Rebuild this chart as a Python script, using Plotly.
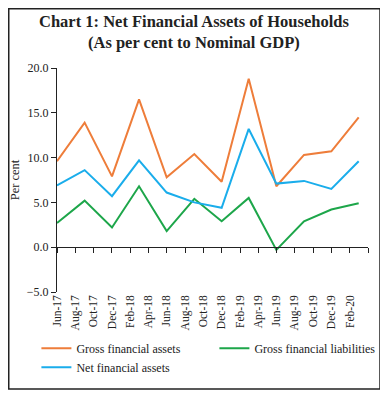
import plotly.graph_objects as go
import pandas as pd

quarters = ["Jun-17", "Sep-17", "Dec-17", "Mar-18", "Jun-18", "Sep-18",
            "Dec-18", "Mar-19", "Jun-19", "Sep-19", "Dec-19", "Mar-20"]
gross_assets = [9.6, 13.9, 7.9, 16.5, 7.8, 10.4, 7.3, 18.8, 6.8, 10.3, 10.7, 14.5]
gross_liabilities = [2.7, 5.2, 2.2, 6.8, 1.8, 5.4, 2.9, 5.5, -0.3, 2.9, 4.2, 4.9]
net_assets = [6.9, 8.6, 5.7, 9.7, 6.1, 5.0, 4.4, 13.2, 7.1, 7.4, 6.5, 9.6]
tick_labels = ["Jun-17", "Aug-17", "Oct-17", "Dec-17", "Feb-18", "Apr-18",
               "Jun-18", "Aug-18", "Oct-18", "Dec-18", "Feb-19", "Apr-19",
               "Jun-19", "Aug-19", "Oct-19", "Dec-19", "Feb-20"]

x_dates = pd.to_datetime(quarters, format="%b-%y")
tick_dates = pd.to_datetime(tick_labels, format="%b-%y")
x_range = ["2017-06-01", "2020-04-01"]

SERIF = "Liberation Serif, DejaVu Serif, serif"
ORANGE = "#EE7D3A"
GREEN = "#1DA64A"
BLUE = "#1AADEB"

# page body has an 8px margin, so the figure is 380x389 and offset by 8px
W, H = 380, 389
L, R, T, B = 49, 20, 60, 105
PW, PH = W - L - R, H - T - B


def px_x(p):
    return (p - L) / PW


def px_y(p):
    return (H - B - p) / PH


fig = go.Figure()
fig.add_trace(go.Scatter(x=x_dates, y=gross_assets, mode="lines",
                         name="Gross financial assets",
                         line=dict(color=ORANGE, width=2)))
fig.add_trace(go.Scatter(x=x_dates, y=gross_liabilities, mode="lines",
                         name="Gross financial liabilities",
                         line=dict(color=GREEN, width=2)))
fig.add_trace(go.Scatter(x=x_dates, y=net_assets, mode="lines",
                         name="Net financial assets",
                         line=dict(color=BLUE, width=2)))
fig.add_trace(go.Scatter(x=[], y=[], xaxis="x2", showlegend=False, hoverinfo="skip"))

fig.update_layout(
    width=W, height=H,
    margin=dict(l=L, r=R, t=T, b=B, autoexpand=False),
    paper_bgcolor="white", plot_bgcolor="white",
    font=dict(family=SERIF, size=12, color="#222"),
    xaxis=dict(type="date", range=x_range, tickmode="array",
               tickvals=tick_dates, ticktext=tick_labels, tickangle=-90,
               showline=False, ticks="", showgrid=False, zeroline=False,
               tickfont=dict(family=SERIF, size=11.5, color="#222")),
    xaxis2=dict(type="date", range=x_range, overlaying="x", anchor="free",
                position=0.2, side="bottom", tick0="2017-06-01", dtick="M2",
                showline=True, linecolor="#222", linewidth=1,
                ticks="outside", ticklen=5, tickcolor="#222",
                showticklabels=False, showgrid=False, zeroline=False),
    yaxis=dict(range=[-5, 20], dtick=5, tickformat=".1f",
               showline=True, linecolor="#222", linewidth=1,
               ticks="outside", ticklen=5, tickcolor="#222",
               showgrid=False, zeroline=False,
               tickfont=dict(family=SERIF, size=12, color="#222"),
               title=dict(text="Per cent", standoff=4,
                          font=dict(family=SERIF, size=12.5, color="#222"))),
    legend=dict(orientation="h", x=px_x(28.4), xanchor="left", y=px_y(325.8), yanchor="top",
                entrywidth=133, entrywidthmode="pixels",
                font=dict(family=SERIF, size=12, color="#222"),
                bgcolor="rgba(0,0,0,0)", tracegroupgap=0),
    annotations=[dict(text="Chart 1: Net Financial Assets of Households<br>(As per cent to Nominal GDP)",
                      xref="paper", yref="paper", x=px_x(186), y=px_y(24),
                      xanchor="center", yanchor="middle", showarrow=False,
                      font=dict(family=SERIF, size=16.5, color="#222", weight="bold"))],
    shapes=[dict(type="rect", xref="paper", yref="paper",
                 x0=px_x(0.75), x1=px_x(372), y0=px_y(381), y1=px_y(0.75),
                 line=dict(color="#222", width=1.5), fillcolor="rgba(0,0,0,0)")],
)

fig.write_html("out.html")
